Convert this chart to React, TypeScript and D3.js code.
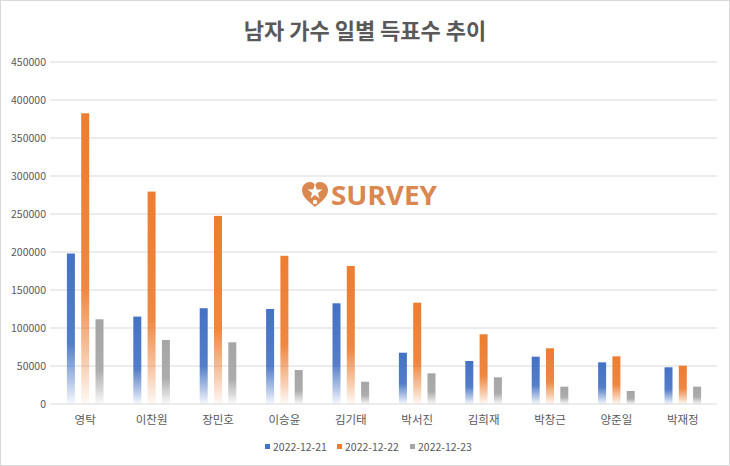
import * as d3 from 'd3'

// ── data ─────────────────────────────────────────────────────────────────────
const singers = ['영탁', '이찬원', '장민호', '이승윤', '김기태', '박서진', '김희재', '박창근', '양준일', '박재정']
const dates   = ['2022-12-21', '2022-12-22', '2022-12-23']
const day21   = [198000, 115000, 126000, 125000, 132500, 67500, 56600, 62300, 54800, 48300]
const day22   = [382500, 279500, 247500, 195000, 181600, 133300, 91700, 73300, 62700, 50400]
const day23   = [111500, 84200, 81200, 44700, 29300, 40400, 35100, 22800, 17100, 22800]
const yTicks  = [0, 50000, 100000, 150000, 200000, 250000, 300000, 350000, 400000, 450000]

// ── constants ────────────────────────────────────────────────────────────────
const W = 730
const H = 466
const COLORS = ['#4472C4', '#ED7D31', '#A5A5A5']
const TXT    = '#595959'
const GRID   = '#D9D9D9'
const FONT   = '"Noto Sans CJK KR", "Noto Sans", sans-serif'
const LOGO   = '#DB8750'

const series = [day21, day22, day23]

export default function App() {
  const x  = d3.scaleBand<string>().domain(singers).range([52, 716])
  const xs = d3.scaleBand<number>().domain([0, 1, 2]).range([-18.3, 18.3]).paddingInner(0.44)
  const y  = d3.scaleLinear().domain([0, 450000]).range([404, 62])

  return (
    <svg width={W} height={H} viewBox={`0 0 ${W} ${H}`}
      style={{ position: 'absolute', left: 0, top: 0, fontFamily: FONT, background: '#fff' }}>
      <defs>
        {COLORS.map((c, i) => (
          <linearGradient key={i} id={`g${i}`} x1="0" y1="0" x2="0" y2="1">
            <stop offset="0" stopColor={c} />
            <stop offset="0.6" stopColor={c} stopOpacity={0.92} />
            <stop offset="0.85" stopColor={c} stopOpacity={0.4} />
            <stop offset="1" stopColor={c} stopOpacity={0.04} />
          </linearGradient>
        ))}
      </defs>
      <rect x={0.5} y={0.5} width={W - 1} height={H - 1} fill="#fff" stroke={GRID} />

      {/* title */}
      <text x={365} y={39} textAnchor="middle" fontSize={22} fontWeight="bold" fill={TXT}>
        남자 가수 일별 득표수 추이
      </text>

      {/* grid + y labels */}
      {yTicks.map(t => (
        <g key={t}>
          <line x1={50} x2={717} y1={y(t)} y2={y(t)} stroke={GRID} strokeWidth={1} />
          <text x={46} y={y(t) + 4} textAnchor="end" fontSize={10.5} fill={TXT}>{t}</text>
        </g>
      ))}

      {/* watermark logo */}
      <g transform="translate(315,195)" fill={LOGO}>
        <path d="M0,12 C-6,7 -13,2 -13,-5 C-13,-10 -9,-13 -5,-13 C-2,-13 0,-11 0,-9 C0,-11 2,-13 5,-13 C9,-13 13,-10 13,-5 C13,2 6,7 0,12 Z" />
        <path fill="#fff" d={d3.symbol(d3.symbolStar, 70)() ?? ''} transform="translate(0,-3)" />
        <circle cx={0} cy={7} r={2.2} fill="#fff" />
      </g>
      <text x={331} y={205} fontSize={27} fontWeight="bold" fill={LOGO} textLength={106} lengthAdjust="spacingAndGlyphs"
        style={{ fontFamily: '"Noto Sans", sans-serif' }}>
        SURVEY
      </text>

      {/* bars */}
      {series.map((vals, si) => (
        <g key={si} fill={`url(#g${si})`}>
          {vals.map((v, i) => {
            const cx = (x(singers[i]) ?? 0) + x.bandwidth() / 2
            return (
              <rect key={i} x={cx + (xs(si) ?? 0)} y={y(v)} width={xs.bandwidth()} height={y(0) - y(v)} />
            )
          })}
        </g>
      ))}

      {/* x labels */}
      {singers.map(s => (
        <text key={s} x={(x(s) ?? 0) + x.bandwidth() / 2} y={424} textAnchor="middle" fontSize={11.5} fill={TXT}>{s}</text>
      ))}

      {/* legend */}
      {dates.map((d, i) => {
        const lx = [265, 337, 410][i]
        return (
          <g key={d}>
            <rect x={lx} y={444} width={5} height={5} fill={COLORS[i]} />
            <text x={lx + 8} y={451} fontSize={10.5} fill={TXT}>{d}</text>
          </g>
        )
      })}
    </svg>
  )
}
